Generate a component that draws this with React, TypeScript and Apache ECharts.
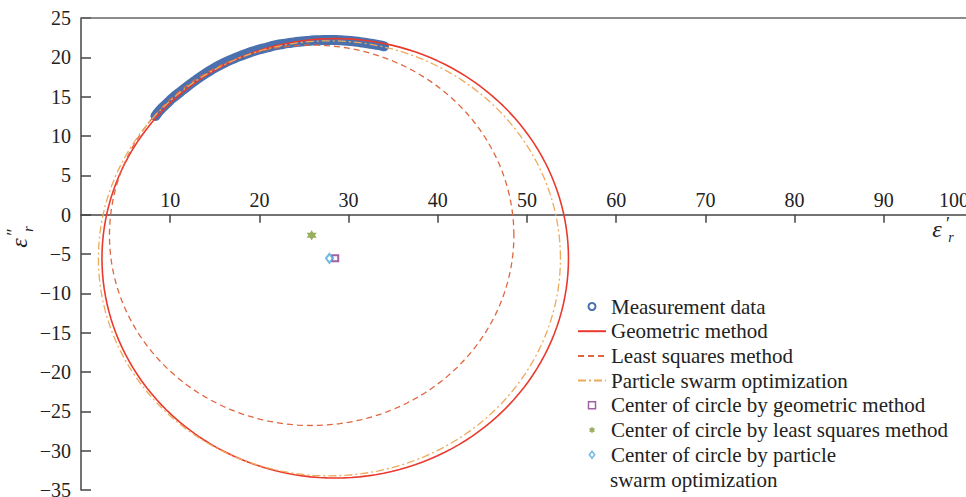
import React, { useEffect, useRef } from 'react';
import * as echarts from 'echarts';

const FONT = '"Liberation Serif", serif';

// axis ticks
const xTicks = [0, 10, 20, 30, 40, 50, 60, 70, 80, 90, 100];
const yTicks = [-35, -30, -25, -20, -15, -10, -5, 0, 5, 10, 15, 20, 25];

// measurement data (ε'r, ε''r)
const measX = [8.35, 8.86, 9.64, 10.31, 11.10, 11.88, 12.78, 13.68, 14.57, 15.47, 16.37, 17.26, 18.16, 19.06, 19.96, 20.85, 21.75, 22.65, 23.54, 24.44, 25.34, 26.23, 27.13, 28.03, 28.92, 29.82, 30.72, 31.61, 32.51, 33.41, 33.97];
const measY = [12.55, 13.30, 14.15, 14.86, 15.56, 16.27, 17.03, 17.74, 18.37, 18.96, 19.46, 19.91, 20.30, 20.68, 21.00, 21.25, 21.51, 21.70, 21.85, 21.99, 22.08, 22.16, 22.19, 22.21, 22.18, 22.12, 22.02, 21.88, 21.72, 21.55, 21.40];

// fitted circles: geometric, least squares, PSO
const fitNames = ['Geometric method', 'Least squares method', 'Particle swarm optimization'];
const fitCenterX = [28.5, 25.86, 27.85];
const fitCenterY = [-5.55, -2.62, -5.55];
const fitRadiusX = [26.15, 22.67, 25.9];
const fitRadiusY = [27.93, 24.18, 27.65];
const fitColors = ['#ea3a2e', '#e0663f', '#eeaa5c'];
const fitDash: any[] = ['solid', [6, 4], [8, 3, 2, 3]];
const fitWidths = [1.6, 1.3, 1.3];

const centerNames = [
  'Center of circle by geometric method',
  'Center of circle by least squares method',
  'Center of circle by particle',
];
const centerColors = ['#8b3a8f', '#7d9a35', '#4fa8dc'];
const STAR = 'path://M0,-10L2.887,-5L8.66,-5L5.774,0L8.66,5L2.887,5L0,10L-2.887,5L-8.66,5L-5.774,0L-8.66,-5L-2.887,-5Z';
const SQUARE = 'path://M0,0L10,0L10,10L0,10Z';
const DIAMOND = 'path://M5,0L10,6.5L5,13L0,6.5Z';
const centerSymbols = ['emptyRect', STAR, 'emptyDiamond'];
const centerSizes: any[] = [6, 10, [7, 9]];
const centerLegendIcons = [SQUARE, STAR, DIAMOND];
const centerLegendHollow = [true, false, true];

// layout
const GRID_LEFT = 81;
const GRID_WIDTH = 892;
const GRID_TOP = 18;
const GRID_BOTTOM = 7;
const CHART_H = 497;

function ellipsePoints(cx: number, cy: number, rx: number, ry: number) {
  const pts: number[][] = [];
  for (let d = 0; d <= 360; d += 2) {
    const t = (d * Math.PI) / 180;
    pts.push([cx + rx * Math.cos(t), cy + ry * Math.sin(t)]);
  }
  return pts;
}

const fmtMinus = (v: number) => (v < 0 ? '\u2212' + Math.abs(v) : String(v));

export default function App() {
  const ref = useRef<HTMLDivElement>(null);
  useEffect(() => {
    if (!ref.current) return;
    const chart = echarts.init(ref.current, undefined, { renderer: 'svg' });

    const yMin = yTicks[0];
    const yMax = yTicks[yTicks.length - 1];
    const gridH = CHART_H - GRID_TOP - GRID_BOTTOM;
    // move x axis (line, ticks and labels) from grid bottom up to y = 0
    const xAxisOffset = -gridH * ((0 - yMin) / (yMax - yMin));

    const series: any[] = [];
    series.push({
      name: 'Measurement data',
      type: 'line',
      data: measX.map((x, i) => [x, measY[i]]),
      symbol: 'none',
      smooth: true,
      lineStyle: { width: 10, color: '#4a70ad', cap: 'round', join: 'round' },
      itemStyle: { color: '#4a70ad' },
      z: 1,
      markLine: {
        silent: true,
        symbol: 'none',
        label: { show: false },
        lineStyle: { color: '#666', width: 1.5, type: 'solid' },
        data: [{ yAxis: yMax }],
      },
    });
    fitNames.forEach((name, i) => {
      series.push({
        name,
        type: 'line',
        data: ellipsePoints(fitCenterX[i], fitCenterY[i], fitRadiusX[i], fitRadiusY[i]),
        symbol: 'none',
        smooth: false,
        lineStyle: { width: fitWidths[i], color: fitColors[i], type: fitDash[i] },
        itemStyle: { color: fitColors[i] },
        z: 2 + i,
      });
    });
    centerNames.forEach((name, i) => {
      series.push({
        name,
        type: 'scatter',
        data: [[fitCenterX[i], fitCenterY[i]]],
        symbol: centerSymbols[i],
        symbolSize: centerSizes[i],
        itemStyle: { color: centerColors[i], borderWidth: 1.5 },
        z: 6,
      });
    });

    const legendData: any[] = [
      { name: 'Measurement data', icon: 'emptyCircle' },
      ...fitNames.map((n) => ({ name: n, itemStyle: { opacity: 0 } })),
      ...centerNames.map((n, i) => ({
        name: n,
        icon: centerLegendIcons[i],
        itemStyle: centerLegendHollow[i]
          ? { color: '#ffffff', borderColor: centerColors[i], borderWidth: 1.5 }
          : { color: centerColors[i], borderWidth: 0 },
      })),
    ];

    const nameText = (x: number, y: number, primes: string, rot: number) => ({
      type: 'group',
      x,
      y,
      rotation: rot,
      children: [
        { type: 'text', x: 0, y: 0, style: { text: 'ε', font: `italic 24px ${FONT}`, fill: '#222', align: 'center', verticalAlign: 'middle' } },
        { type: 'text', x: 11, y: -5, style: { text: primes, font: `18px ${FONT}`, fill: '#222', align: 'center', verticalAlign: 'middle' } },
        { type: 'text', x: 14, y: 9, style: { text: 'r', font: `italic 14px ${FONT}`, fill: '#222', align: 'center', verticalAlign: 'middle' } },
      ],
    });

    chart.setOption({
      animation: false,
      backgroundColor: '#ffffff',
      textStyle: { fontFamily: FONT },
      grid: {
        left: GRID_LEFT,
        width: GRID_WIDTH,
        top: GRID_TOP,
        bottom: GRID_BOTTOM,
        containLabel: false,
        outerBoundsMode: 'none',
      },
      xAxis: {
        type: 'value',
        min: xTicks[0],
        max: xTicks[xTicks.length - 1],
        interval: xTicks[1] - xTicks[0],
        position: 'bottom',
        offset: xAxisOffset,
        axisLine: { onZero: false, lineStyle: { color: '#444', width: 1.5 } },
        axisTick: { inside: false, length: 8, lineStyle: { color: '#444', width: 1.5 } },
        axisLabel: {
          inside: true,
          margin: 5,
          fontFamily: FONT,
          fontSize: 20,
          color: '#222',
          showMinLabel: false,
          alignMaxLabel: 'right',
          formatter: (v: number) => (v === 100 ? '{p|100}' : String(v)),
          rich: { p: { padding: [0, 4, 0, 0], fontFamily: FONT, fontSize: 20, color: '#222' } },
        },
        splitLine: { show: false },
      },
      yAxis: {
        type: 'value',
        min: yMin,
        max: yMax,
        interval: yTicks[1] - yTicks[0],
        axisLine: { show: true, onZero: false, lineStyle: { color: '#444', width: 1.5 } },
        axisTick: { inside: true, length: 10, lineStyle: { color: '#444', width: 1.5 } },
        axisLabel: { margin: 10, fontFamily: FONT, fontSize: 20, color: '#222', formatter: fmtMinus },
        splitLine: { show: false },
      },
      legend: {
        orient: 'vertical',
        left: 577,
        top: 296,
        padding: 0,
        itemWidth: 28,
        itemHeight: 7,
        itemGap: 3.7,
        symbolKeepAspect: true,
        data: legendData,
        textStyle: { fontFamily: FONT, fontSize: 21, lineHeight: 21, color: '#222' },
      },
      graphic: [
        {
          type: 'text',
          left: 610,
          top: 469,
          style: { text: 'swarm optimization', font: `21px ${FONT}`, fill: '#222' },
        },
        nameText(937, 228.5, '\u2032', 0),
        nameText(19, 243, '\u2033', Math.PI / 2),
      ],
      series,
    });
    return () => chart.dispose();
  }, []);
  return <div ref={ref} style={{ position: 'fixed', left: 0, top: 0, width: 966, height: 497, background: '#fff' }} />;
}
